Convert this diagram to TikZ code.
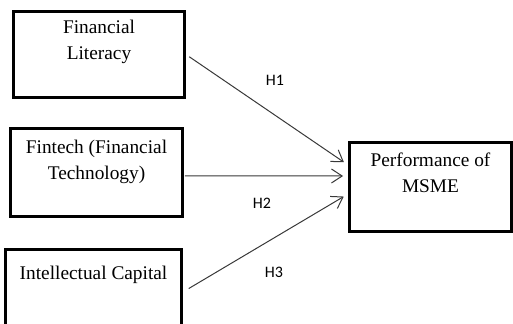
\documentclass[tikz,border=0pt]{standalone}
\usepackage{fontspec}
\setmainfont{Liberation Serif}
\newfontfamily\hypfont{Carlito}
\usetikzlibrary{calc,arrows.meta}

\begin{document}
\begin{tikzpicture}[
        x=0.75pt, y=-0.75pt,
        hypo/.style={draw=black!78, line width=0.75pt, -{Straight Barb[length=8pt,width=10.5pt]}},
    ]
    \useasboundingbox (0,0) rectangle (513,324);
    \clip (0,0) rectangle (513,324);
    % constructs (boxes)
    \tikzstyle{var}=[draw, line width=2.2pt, inner sep=0]
    % box captions, placed by the baseline of their last line
    \tikzstyle{vartxt}=[anchor=base, align=center, inner sep=0, font=\fontsize{14.5}{19.5}\selectfont]
    % hypothesis labels
    \tikzstyle{hyp}=[inner sep=0, font=\hypfont\fontsize{12}{14}\selectfont]
    \node[var, minimum width=128.25pt, minimum height=64.5pt] (FL) at (99,54.5) {};
    \node[var, minimum width=129pt, minimum height=66pt] (FT) at (96.5,172.5) {};
    \node[var, minimum width=132pt, minimum height=67.5pt] (IC) at (93.5,294.5) {};
    \node[var, minimum width=121.5pt, minimum height=66.75pt] (PM) at (430.5,187) {};
    \node[vartxt] (FLtxt) at ($(FL.north)+(0,49)$) {Financial\\Literacy};
    \node[vartxt] (FTtxt) at ($(FT.north)+(0,52)$) {Fintech (Financial\\Technology)};
    \node[vartxt] (ICtxt) at ($(IC.north)+(0,31)$) {Intellectual Capital};
    \node[vartxt] (PMtxt) at ($(PM.north)+(0,51)$) {Performance of\\MSME};
    \node[hyp] (H1) at (275,80) {H1};
    \node[hyp] (H2) at (262,203) {H2};
    \node[hyp] (H3) at (274,272) {H3};
    \draw[hypo, shorten <=3pt, shorten >=3.75pt] (FL.east) -- ([yshift=16.5pt]PM.west);
    \draw[hypo, shorten <=0.75pt, shorten >=3.75pt] ([yshift=-2.6pt]FT.east) -- ([yshift=8.25pt]PM.west);
    \draw[hypo, shorten <=5pt, shorten >=3.75pt] ([yshift=1.9pt]IC.east) -- ([yshift=-5.25pt]PM.west);
\end{tikzpicture}
\end{document}
